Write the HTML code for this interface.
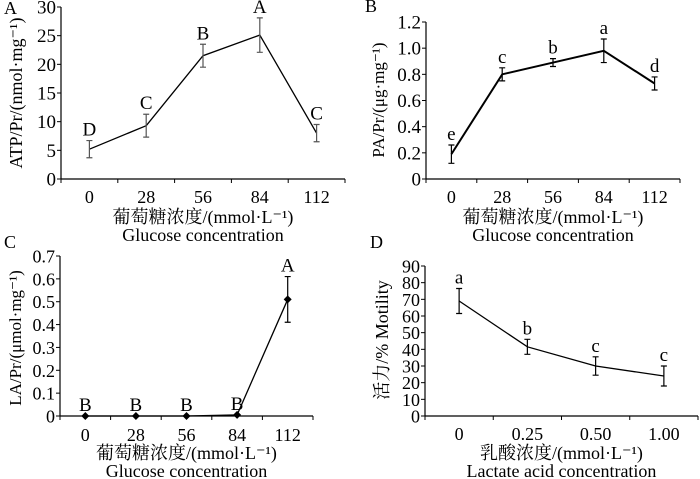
<!DOCTYPE html>
<html><head><meta charset="utf-8">
<style>
html,body{margin:0;padding:0;background:#fff;}
svg{display:block;}
text{font-family:"Liberation Serif","Noto Serif CJK SC","Noto Sans CJK SC",serif;fill:#000;}
</style></head>
<body>
<svg id="fig" width="700" height="479" viewBox="0 0 700 479" xmlns="http://www.w3.org/2000/svg"></svg>
<script>
// Panel A data
const catsA = ["0","28","56","84","112"];
const valsA = [5.2, 9.3, 21.5, 25.1, 8.0];
const errA = [1.5, 2.0, 2.0, 3.0, 1.5];
const sigA = ["D","C","B","A","C"];
const ticksA = [0,5,10,15,20,25,30];
// Panel B data
const catsB = ["0","28","56","84","112"];
const valsB = [0.19, 0.80, 0.89, 0.98, 0.73];
const errB = [0.07, 0.05, 0.03, 0.09, 0.05];
const sigB = ["e","c","b","a","d"];
const ticksB = [0,0.2,0.4,0.6,0.8,1.0,1.2];
const tickLabB = ["0","0.2","0.4","0.6","0.8","1.0","1.2"];
// Panel C data
const catsC = ["0","28","56","84","112"];
const valsC = [0, 0, 0, 0.005, 0.51];
const errC = [0, 0, 0, 0, 0.1];
const sigC = ["B","B","B","B","A"];
const ticksC = [0,0.1,0.2,0.3,0.4,0.5,0.6,0.7];
const tickLabC = ["0","0.1","0.2","0.3","0.4","0.5","0.6","0.7"];
// Panel D data
const catsD = ["0","0.25","0.50","1.00"];
const valsD = [69, 41.5, 30, 24];
const errD = [7.5, 4.5, 5.5, 6];
const sigD = ["a","b","c","c"];
const ticksD = [0,10,20,30,40,50,60,70,80,90];

const NS="http://www.w3.org/2000/svg";
const svg=document.getElementById('fig');
function mk(tag,attrs,parent){const e=document.createElementNS(NS,tag);for(const k in attrs)e.setAttribute(k,attrs[k]);(parent||svg).appendChild(e);return e;}
function txt(s,x,y,size,parent,anchor){const t=mk('text',{x:x,y:y,'font-size':size,'text-anchor':anchor||'middle'},parent);t.textContent=s;return t;}

function panel(p){
  const g=mk('g',{});
  
  
  const n=p.cats.length;
  const step=(p.x1-p.x0)/n;
  const xs=i=>p.x0+step*(i+0.5);
  const ymax=p.ticks[p.ticks.length-1];
  const ys=v=>p.y0-(v/ymax)*(p.y0-p.yt);
  const pl=txt(p.id,p.lx,p.ly,18,g,'start');
  
  
  const ax=mk('line',{x1:p.x0,y1:p.yt,x2:p.x0,y2:p.y0,stroke:'#000','stroke-width':1.2},g);
  
  
  const bx=mk('line',{x1:p.x0,y1:p.y0,x2:p.x1,y2:p.y0,stroke:'#000','stroke-width':1.2},g);
  
  
  p.ticks.forEach((t,i)=>{
    const y=ys(t);
    mk('line',{x1:p.x0-4,y1:y,x2:p.x0,y2:y,stroke:'#000','stroke-width':1},g);
    const tl=txt(p.tickLab?p.tickLab[i]:String(t),p.x0-5,y+6.5,p.tsize,g,'end');
    
    
  });
  for(let i=0;i<=n;i++){const x=p.x0+step*i;mk('line',{x1:x,y1:p.y0,x2:x,y2:p.y0+4,stroke:'#000','stroke-width':1},g);}
  p.cats.forEach((c,i)=>{
    const tl=txt(c,xs(i),p.xly,18,g);
    
    
  });
  const pts=p.vals.map((v,i)=>xs(i)+','+ys(v)).join(' ');
  const ln=mk('polyline',{points:pts,fill:'none',stroke:'#000','stroke-width':p.lw},g);
  
  
  p.vals.forEach((v,i)=>{
    const x=xs(i);
    if(p.err[i]>0){
      const e=mk('path',{d:`M${x},${ys(v-p.err[i])}V${ys(v+p.err[i])}M${x-3},${ys(v-p.err[i])}h6M${x-3},${ys(v+p.err[i])}h6`,stroke:p.ecol,'stroke-width':1.2,fill:'none'},g);
      
      
    }
    if(p.marker){
      const y=ys(v);
      const d=mk('path',{d:`M${x},${y-4}L${x+4},${y}L${x},${y+4}L${x-4},${y}Z`,fill:'#000'},g);
      
      
    }
    const top=ys(v+p.err[i]);
    const s=txt(p.sig[i],x,top-5,19,g);
    
    
  });
  const yt=mk('text',{x:0,y:0,'font-size':p.ytsize,'text-anchor':'middle',transform:`translate(${p.ytx},${p.yty}) rotate(-90)`},g);
  yt.textContent=p.ytitle;
  
  
  const x1=txt(p.xcn,(p.x0+p.x1)/2,p.xcny,18,g);
  
  
  const x2=txt(p.xen,(p.x0+p.x1)/2,p.xcny+18,18,g);
  
  
}

panel({id:'A',cats:catsA,vals:valsA,err:errA,sig:sigA,ticks:ticksA,x0:61,x1:345,y0:179,yt:7,lx:4,ly:14,tsize:19,xly:203,ytsize:18,
  ytitle:'ATP/Pr/(nmol·mg⁻¹)',ytx:22,yty:93,xcn:'葡萄糖浓度/(mmol·L⁻¹)',xcny:223,xen:'Glucose concentration',lw:1.3,ecol:'#555',marker:false});
panel({id:'B',cats:catsB,vals:valsB,err:errB,sig:sigB,ticks:ticksB,tickLab:tickLabB,x0:426,x1:680,y0:179,yt:22,lx:365,ly:12,tsize:19,xly:203,ytsize:17,
  ytitle:'PA/Pr/(μg·mg⁻¹)',ytx:384,yty:100,xcn:'葡萄糖浓度/(mmol·L⁻¹)',xcny:223,xen:'Glucose concentration',lw:2,ecol:'#000',marker:false});
panel({id:'C',cats:catsC,vals:valsC,err:errC,sig:sigC,ticks:ticksC,tickLab:tickLabC,x0:60,x1:313,y0:416,yt:256,lx:4,ly:248,tsize:18,xly:441,ytsize:17,
  ytitle:'LA/Pr/(μmol·mg⁻¹)',ytx:21,yty:338,xcn:'葡萄糖浓度/(mmol·L⁻¹)',xcny:459,xen:'Glucose concentration',lw:1.3,ecol:'#000',marker:true});
panel({id:'D',cats:catsD,vals:valsD,err:errD,sig:sigD,ticks:ticksD,x0:425,x1:698,y0:416,yt:266,lx:370,ly:248,tsize:18,xly:440,ytsize:18,
  ytitle:'活力/% Motility',ytx:388,yty:340,xcn:'乳酸浓度/(mmol·L⁻¹)',xcny:459,xen:'Lactate acid concentration',lw:1.3,ecol:'#000',marker:false});
</script>
</body></html>
